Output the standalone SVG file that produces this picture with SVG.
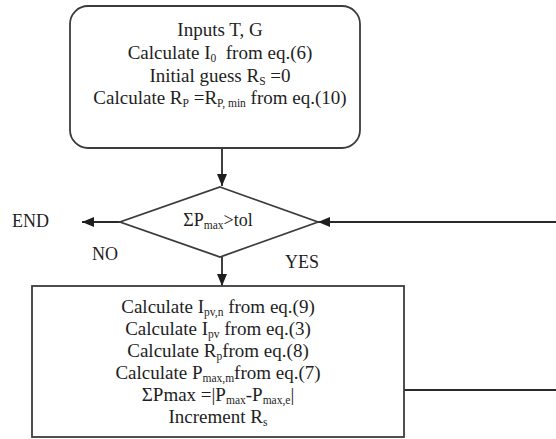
<svg xmlns="http://www.w3.org/2000/svg" width="556" height="439" viewBox="0 0 556 439">
<defs>
<style>
.shape{fill:#fff;stroke:#3c3c3c;stroke-width:1.8}
.line{fill:none;stroke:#2a2a2a;stroke-width:1.8}
.t{font-family:'Liberation Serif','DejaVu Serif',serif;font-size:18px;fill:#1e1e1e}
.b{font-size:19px}
.c{text-anchor:middle}
.s{font-size:11.5px}
</style>
<marker id="ah" viewBox="0 0 12 10" refX="12" refY="5" markerWidth="12" markerHeight="10" markerUnits="userSpaceOnUse" orient="auto">
<path d="M0,0 L12,5 L0,10 Z" fill="#1e1e1e"/>
</marker>
</defs>
<rect width="556" height="439" fill="#fff"/>
<g id="connectors">
<path class="line" d="M222,148 V186" marker-end="url(#ah)"/>
<path class="line" d="M120,222 H82" marker-end="url(#ah)"/>
<path class="line" d="M222,257 V286" marker-end="url(#ah)"/>
<path class="line" d="M404,390 H556"/>
<path class="line" d="M556,222 H318" marker-end="url(#ah)"/>
</g>
<g id="start">
<rect class="shape" x="70" y="6" width="290" height="142" rx="18" ry="18"/>
<text class="t b c" x="220" y="36">Inputs T, G</text>
<text class="t b c" x="220" y="59">Calculate I<tspan class="s" dy="3">0</tspan><tspan dy="-3" xml:space="preserve">  from eq.(6)</tspan></text>
<text class="t b c" x="220" y="81.5">Initial guess R<tspan class="s" dy="3">S</tspan><tspan dy="-3"> =0</tspan></text>
<text class="t b c" x="220" y="104">Calculate R<tspan class="s" dy="3">P</tspan><tspan dy="-3"> =R</tspan><tspan class="s" dy="3">P, min</tspan><tspan dy="-3"> from eq.(10)</tspan></text>
</g>
<g id="decision">
<polygon class="shape" points="220,187 318,222 220,257 120,222"/>
<text class="t c" x="218" y="226">ΣP<tspan class="s" dy="3">max</tspan><tspan dy="-3">&gt;tol</tspan></text>
</g>
<g id="end">
<text class="t" x="12" y="227">END</text>
</g>
<g id="labels">
<text class="t" x="92" y="260">NO</text>
<text class="t" x="285" y="268">YES</text>
</g>
<g id="process">
<rect class="shape" x="32" y="286" width="372" height="151"/>
<text class="t b c" x="218" y="313">Calculate I<tspan class="s" dy="3">pv,n</tspan><tspan dy="-3"> from eq.(9)</tspan></text>
<text class="t b c" x="218" y="335">Calculate I<tspan class="s" dy="3">pv</tspan><tspan dy="-3"> from eq.(3)</tspan></text>
<text class="t b c" x="218" y="357">Calculate R<tspan class="s" dy="3">p</tspan><tspan dy="-3">from eq.(8)</tspan></text>
<text class="t b c" x="218" y="379">Calculate P<tspan class="s" dy="3">max,m</tspan><tspan dy="-3">from eq.(7)</tspan></text>
<text class="t b c" x="218" y="401">ΣPmax =|P<tspan class="s" dy="3">max</tspan><tspan dy="-3">-P</tspan><tspan class="s" dy="3">max,e</tspan><tspan dy="-3">|</tspan></text>
<text class="t b c" x="218" y="423">Increment R<tspan class="s" dy="3">s</tspan></text>
</g>
</svg>
